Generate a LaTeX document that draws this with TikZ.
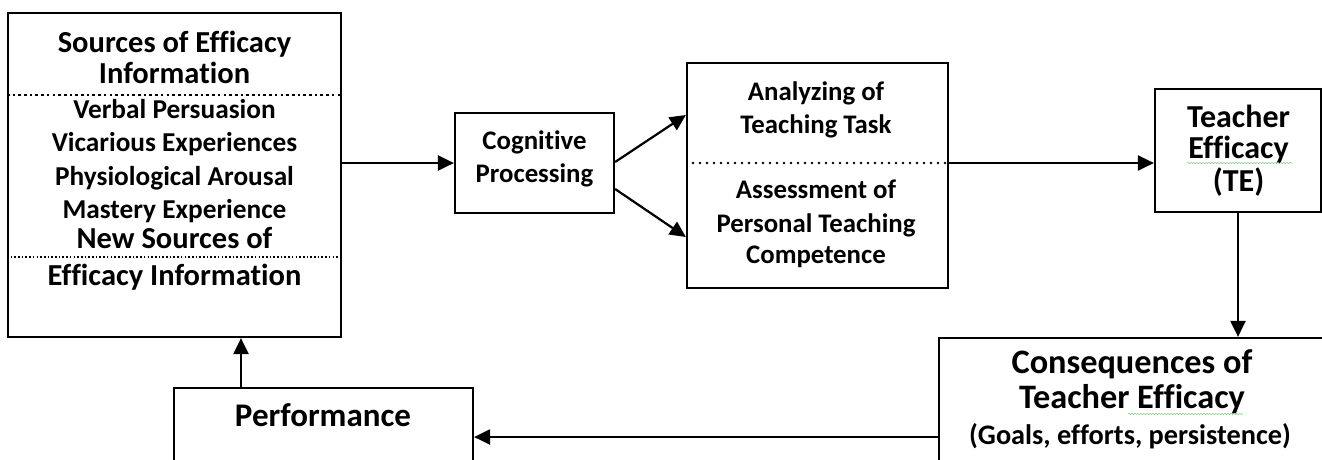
\documentclass[tikz,border=0pt]{standalone}
\usepackage{fontspec}
\setmainfont{Carlito}[Ligatures={NoCommon}]
\usetikzlibrary{arrows.meta,calc,decorations.pathmorphing}
\newcommand\fsA{\fontsize{30.5}{36}\selectfont\bfseries}
\newcommand\fsB{\fontsize{27.3}{32}\selectfont\bfseries}
\newcommand\fsC{\fontsize{26.8}{32}\selectfont\bfseries}
\newcommand\fsD{\fontsize{32}{36}\selectfont\bfseries}
\newcommand\fsE{\fontsize{34.3}{38}\selectfont\bfseries}
\newcommand\fsF{\fontsize{28.3}{32}\selectfont\bfseries}
\newcommand\fsG{\fontsize{33}{38}\selectfont\bfseries}
\begin{document}
\begin{tikzpicture}[x=1pt,y=-1pt,
  box/.style={draw,line width=2.2pt,rectangle,inner sep=0pt},
  txt/.style={inner sep=0pt,anchor=base},
  arr/.style={line width=2.2pt,-{Triangle[length=16pt,width=15pt]}},
  sep/.style={line width=2.6pt,dash pattern=on 2.6pt off 3.1pt},
  septhin/.style={line width=1.6pt,dash pattern=on 1.6pt off 2.1pt},
  sepround/.style={line width=2.8pt,line cap=round,dash pattern=on 0pt off 7pt},
  wavy/.style={draw=green!55!black!45,line width=0.6pt,decorate,decoration={snake,amplitude=0.6pt,segment length=3pt}}]
\path[use as bounding box] (0,0) rectangle (1322,459);
\clip (0,0) rectangle (1322,459);
% boxes
\node[box,minimum width=333pt,minimum height=324pt] (src) at (174.5,175) {};
\node[box,minimum width=159pt,minimum height=100pt] (cog) at (534.5,163) {};
\node[box,minimum width=261pt,minimum height=225pt] (mid) at (817.5,175.5) {};
\node[box,minimum width=166pt,minimum height=123pt] (te) at (1238,150.5) {};
\node[box,minimum width=401pt,minimum height=142pt] (cons) at (1139.5,409) {};
\node[box,minimum width=299pt,minimum height=92pt] (perf) at (323.5,434) {};
% separators
\coordinate (l1) at (0,95);
\coordinate (l2) at (0,257);
\coordinate (ml) at (0,163);
\draw[sep] (src.west |- l1) -- (src.east |- l1);
\draw[septhin] (src.west |- l2) -- (src.east |- l2);
\draw[sepround] ([xshift=7pt]mid.west |- ml) -- (mid.east |- ml);
% texts: sources
\node[txt,font=\fsA] (s1) at (174.5,52.7) {Sources of Efficacy};
\node[txt,font=\fsA] (s2) at (174.5,83.5) {Information};
\node[txt,font=\fsB] (s3) at (174.5,118.5) {Verbal Persuasion};
\node[txt,font=\fsB] (s4) at (174.5,151.7) {Vicarious Experiences};
\node[txt,font=\fsB] (s5) at (174.5,185.5) {Physiological Arousal};
\node[txt,font=\fsB] (s6) at (174.5,218.5) {Mastery Experience};
\node[txt,font=\fsA] (s7) at (174.5,248.7) {New Sources of};
\node[txt,font=\fsA] (s8) at (174.5,285.5) {Efficacy Information};
% cognitive
\node[txt,font=\fsC] (c1) at (534.5,149.5) {Cognitive};
\node[txt,font=\fsC] (c2) at (534.5,182.5) {Processing};
% middle
\node[txt,font=\fsC] (m1) at (816,100.5) {Analyzing of};
\node[txt,font=\fsC] (m2) at (816,133) {Teaching Task};
\node[txt,font=\fsC] (m3) at (816,198.5) {Assessment of};
\node[txt,font=\fsC] (m4) at (816,232.5) {Personal Teaching};
\node[txt,font=\fsC] (m5) at (816,263.5) {Competence};
% teacher efficacy
\node[txt,font=\fsD] (t1) at (1238.5,127) {Teacher};
\node[txt,font=\fsD] (t2) at (1238.5,158) {Efficacy};
\node[txt,font=\fsD] (t3) at (1238.5,191) {(TE)};
% consequences
\node[txt,font=\fsE] (q1) at (1132,373.5) {Consequences of};
\node[txt,font=\fsE] (q2) at (1132,408.5) {Teacher Efficacy};
\node[txt,font=\fsF] (q3) at (1130,444) {(Goals, efforts, persistence)};
% performance
\node[txt,font=\fsG] (p1) at (323,426) {Performance};
% spell-check marks
\coordinate (w1a) at (1187,163);
\coordinate (w1b) at (1292,163);
\draw[wavy] (w1a) -- (w1b);
\coordinate (w2a) at (1128,414);
\coordinate (w2b) at (1243,414);
\draw[wavy] (w2a) -- (w2b);
% connectors
\coordinate (cp) at (241,0);
\coordinate (fb) at (0,437);
\draw[arr] (src.east |- cog.west) -- (cog.west);
\draw[arr] ([yshift=1pt]cog.east) -- ([yshift=60.5pt]mid.west);
\draw[arr] ([yshift=-26pt]cog.east) -- ([yshift=-61.5pt]mid.west);
\draw[arr] (mid.east |- ml) -- (te.west |- ml);
\draw[arr] (te.south) -- (te.south |- cons.north);
\draw[arr] (cons.west |- fb) -- (perf.east |- fb);
\draw[arr] (perf.north -| cp) -- (src.south -| cp);
\end{tikzpicture}
\end{document}
